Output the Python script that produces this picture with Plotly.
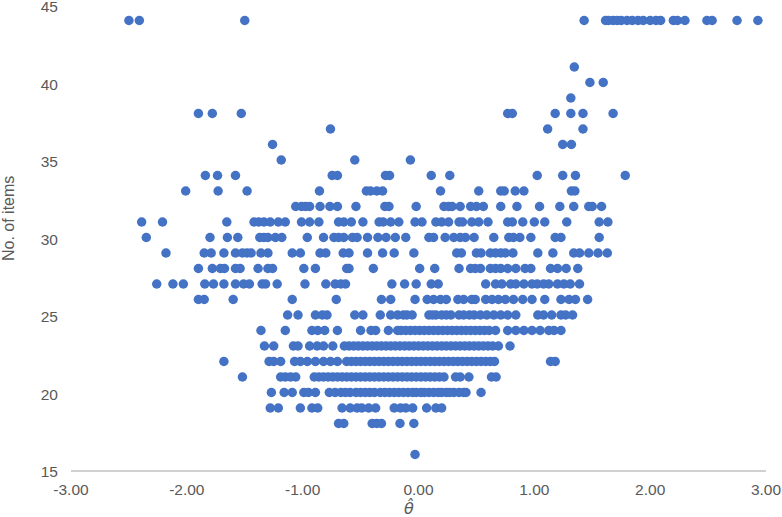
import plotly.graph_objects as go

# theta estimates per "no. of items" row
row_16 = [-0.03]
row_18 = [-0.69, -0.645, -0.40, -0.36, -0.32, -0.16, -0.04]
row_19 = [-1.28, -1.21, -1.02, -0.92, -0.87, -0.66, -0.59, -0.53, -0.49, -0.43, -0.37,
          -0.21, -0.155, -0.11, -0.05, 0.07, 0.15, 0.20]
row_20 = [-1.27, -1.16, -1.09, -0.99, -0.95, -0.89, -0.77, -0.72, -0.67, -0.63, -0.59, -0.54,
          -0.50, -0.46, -0.42, -0.38, -0.33, -0.29, -0.25, -0.21, -0.17, -0.13, -0.09, -0.05,
          -0.02, 0.02, 0.05, 0.09, 0.13, 0.20, 0.305, 0.39, 0.41, 0.54, 0.17, 0.24, 0.27, 0.35]
row_21 = [-1.52, -1.19, -1.15, -1.105, -1.06, -0.90, -0.86, -0.82, -0.78, -0.74, -0.70, -0.66,
          -0.62, -0.58, -0.54, -0.50, -0.46, -0.42, -0.38, -0.34, -0.30, -0.26, -0.22, -0.18,
          -0.14, -0.10, -0.06, -0.02, 0.02, 0.06, 0.10, 0.14, 0.18, 0.22, 0.32, 0.36, 0.435,
          0.63, 0.67]
row_22 = [-1.68, -1.29, -1.25, -1.19, -1.07, -1.02, -0.96, -0.89, -0.82, -0.76, -0.70, -0.62,
          -0.58, -0.54, -0.50, -0.46, -0.42, -0.38, -0.34, -0.30, -0.26, -0.22, -0.18, -0.14,
          -0.10, -0.06, -0.02, 0.02, 0.06, 0.10, 0.14, 0.18, 0.22, 0.26, 0.30, 0.34, 0.38,
          0.42, 0.46, 0.50, 0.54, 0.58, 0.62, 0.656, 1.14, 1.18]
row_23 = [-1.33, -1.25, -1.08, -1.04, -0.94, -0.875, -0.82, -0.74, -0.64, -0.60, -0.56, -0.52,
          -0.48, -0.44, -0.40, -0.36, -0.32, -0.28, -0.24, -0.20, -0.16, -0.12, -0.08, -0.04,
          0.00, 0.04, 0.08, 0.12, 0.16, 0.20, 0.24, 0.28, 0.32, 0.36, 0.40, 0.44, 0.48, 0.52,
          0.56, 0.60, 0.64, 0.69, 0.79]
row_24 = [-1.36, -1.15, -0.92, -0.87, -0.81, -0.70, -0.50, -0.41, -0.37, -0.26, -0.18, -0.15,
          -0.11, -0.07, -0.03, 0.01, 0.05, 0.09, 0.13, 0.17, 0.21, 0.25, 0.29, 0.33, 0.37,
          0.41, 0.45, 0.49, 0.53, 0.57, 0.61, 0.665, 0.77, 0.84, 0.91, 0.98, 1.05, 1.125,
          1.17, 1.23]
row_25 = [-1.13, -1.04, -0.89, -0.83, -0.79, -0.55, -0.48, -0.33, -0.24, -0.18, -0.13, -0.10,
          -0.055, 0.09, 0.15, 0.20, 0.28, 0.35, 0.39, 0.48, 0.535, 0.59, 0.65, 0.71, 0.77,
          0.84, 1.03, 1.08, 1.15, 1.23, 1.27, 1.33, 0.12, 0.24, 0.44]
row_26 = [-1.90, -1.85, -1.60, -1.09, -0.71, -0.32, -0.24, -0.03, 0.075, 0.13, 0.19, 0.24,
          0.34, 0.39, 0.46, 0.49, 0.58, 0.635, 0.69, 0.75, 0.82, 0.90, 0.98, 1.09, 1.23,
          1.30, 1.355, 1.46]
row_27 = [-2.26, -2.12, -2.03, -1.845, -1.77, -1.68, -1.58, -1.51, -1.46, -1.35, -1.32, -1.22,
          -0.98, -0.80, -0.72, -0.67, -0.63, -0.23, -0.12, -0.02, 0.11, 0.17, 0.58, 0.665,
          0.72, 0.795, 0.84, 0.91, 0.98, 1.025, 1.08, 1.125, 1.20, 1.255, 1.31, 1.39]
row_28 = [-1.90, -1.78, -1.71, -1.675, -1.58, -1.54, -1.385, -1.30, -1.26, -0.99, -0.89, -0.62,
          -0.60, -0.39, 0.01, 0.14, 0.35, 0.45, 0.49, 0.535, 0.62, 0.665, 0.71, 0.77, 0.84,
          0.92, 0.97, 1.14, 1.20, 1.275, 1.375]
row_29 = [-2.18, -1.85, -1.79, -1.68, -1.58, -1.52, -1.48, -1.445, -1.36, -1.30, -1.09, -1.02,
          -0.85, -0.80, -0.65, -0.60, -0.44, -0.31, -0.21, -0.04, 0.33, 0.37, 0.50, 0.54,
          0.62, 0.665, 0.71, 0.75, 0.815, 1.03, 1.16, 1.34, 1.39, 1.47, 1.55, 1.63]
row_30 = [-2.35, -1.80, -1.65, -1.56, -1.37, -1.335, -1.30, -1.235, -1.18, -0.96, -0.82, -0.73,
          -0.69, -0.645, -0.57, -0.53, -0.44, -0.35, -0.28, -0.20, -0.11, 0.09, 0.13, 0.23,
          0.305, 0.36, 0.405, 0.48, 0.65, 0.78, 0.82, 0.875, 0.97, 1.18, 1.23, 1.56]
row_31 = [-2.39, -2.21, -1.655, -1.42, -1.38, -1.335, -1.28, -1.21, -1.15, -1.01, -0.94, -0.86,
          -0.69, -0.645, -0.58, -0.48, -0.34, -0.305, -0.24, -0.17, -0.03, 0.03, 0.15, 0.20,
          0.26, 0.35, 0.38, 0.46, 0.52, 0.60, 0.77, 0.81, 0.90, 1.00, 1.09, 1.28, 1.56, 1.635]
row_32 = [-1.06, -1.01, -0.975, -0.94, -0.85, -0.765, -0.70, -0.54, -0.29, -0.255, -0.02, 0.22,
          0.26, 0.29, 0.36, 0.45, 0.50, 0.56, 0.71, 0.85, 1.045, 1.22, 1.34, 1.47, 1.50, 1.58]
row_33 = [-2.01, -1.73, -1.48, -0.855, -0.45, -0.415, -0.36, -0.31, 0.19, 0.52, 0.71, 0.74,
          0.835, 0.91, 1.32, 1.35]
row_34 = [-1.84, -1.735, -1.58, -0.745, -0.70, -0.285, -0.25, 0.11, 0.27, 1.025, 1.245, 1.355,
          1.785]
row_35 = [-1.185, -0.55, -0.07]
row_36 = [-1.26, 1.245, 1.32]
row_37 = [-0.76, 1.115, 1.42]
row_38 = [-1.90, -1.78, -1.53, 0.77, 0.81, 1.18, 1.315, 1.42, 1.68]
row_39 = [1.315]
row_40 = [1.48, 1.595]
row_41 = [1.345]
row_44 = [-2.50, -2.41, -1.50, 1.43, 1.615, 1.64, 1.68, 1.715, 1.75, 1.80, 1.845, 1.895, 1.94,
          2.00, 2.05, 2.09, 2.20, 2.235, 2.30, 2.49, 2.535, 2.75, 2.93]

rows = {
    16: row_16, 18: row_18, 19: row_19, 20: row_20, 21: row_21, 22: row_22, 23: row_23,
    24: row_24, 25: row_25, 26: row_26, 27: row_27, 28: row_28, 29: row_29, 30: row_30,
    31: row_31, 32: row_32, 33: row_33, 34: row_34, 35: row_35, 36: row_36, 37: row_37,
    38: row_38, 39: row_39, 40: row_40, 41: row_41, 44: row_44,
}

x_ticks = [-3, -2, -1, 0, 1, 2, 3]
x_labels = ["-3.00", "-2.00", "-1.00", "0.00", "1.00", "2.00", "3.00"]
y_ticks = [15, 20, 25, 30, 35, 40, 45]

theta = [t for n, vals in rows.items() for t in vals]
items = [n for n, vals in rows.items() for _ in vals]

fig = go.Figure()
fig.add_scatter(
    x=theta,
    y=items,
    mode="markers",
    marker=dict(size=9.5, color="#4472C4"),
    cliponaxis=False,
)

fig.update_layout(
    width=782,
    height=517,
    margin=dict(l=71, r=16, t=5, b=47, autoexpand=False),
    plot_bgcolor="white",
    paper_bgcolor="white",
    showlegend=False,
    font=dict(family="Liberation Sans", size=15.5, color="#595959"),
    xaxis=dict(
        range=[-3, 3],
        tickvals=x_ticks,
        ticktext=x_labels,
        showgrid=False,
        zeroline=False,
        showline=True,
        linecolor="#D0D0D0",
        linewidth=2,
        ticks="",
        ticklabelstandoff=4,
        automargin=False,
    ),
    yaxis=dict(
        range=[15, 45],
        tickvals=y_ticks,
        showgrid=False,
        zeroline=False,
        showline=False,
        ticks="",
        ticklabelstandoff=12,
        ticklabeloverflow="allow",
        automargin=False,
    ),
    # axis titles sit off-centre in the original, so they are placed by hand
    annotations=[
        dict(
            text="No. of items",
            xref="paper", yref="paper", x=-0.089, y=0.54,
            xanchor="center", yanchor="middle",
            textangle=-90,
            showarrow=False,
            font=dict(size=16),
        ),
        dict(
            text="<i>θ̂</i>",
            xref="paper", yref="paper", x=0.487, y=-0.082,
            xanchor="center", yanchor="middle",
            showarrow=False,
            font=dict(family="DejaVu Sans", size=16),
        ),
    ],
)

# nudge the y tick labels down a little, like in the original
fig.write_html(
    "out.html",
    config={"displayModeBar": False},
    post_script="""document.body.style.margin='0';
document.querySelectorAll('.ytick text').forEach(t => t.setAttribute('dy', '2'));""",
)
